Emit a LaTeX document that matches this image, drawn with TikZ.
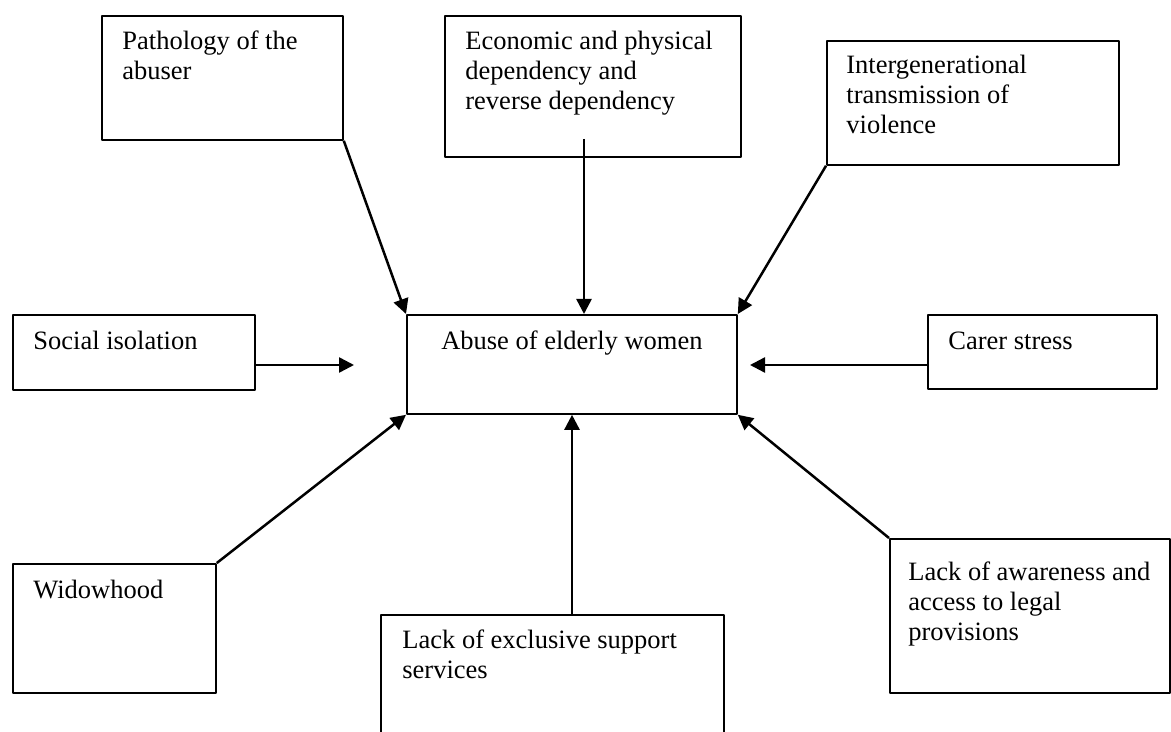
\documentclass[tikz,border=0pt]{standalone}
\usepackage{fontspec}
\setmainfont{Liberation Serif}
\usetikzlibrary{arrows.meta}
\tikzset{
	box/.style={draw,line width=0.9pt,anchor=north west,inner sep=0pt},
	txt/.style={anchor=base west,align=left,inner sep=0pt},
	arr/.style={line width=1.25pt,-{Triangle[length=7.5pt,width=7.5pt]}}
}
\begin{document}
\begin{tikzpicture}[x=0.5pt,y=-0.5pt,font=\fontsize{13.25}{15}\selectfont,line join=round]
	\useasboundingbox (0,0) rectangle (1171,732);
	\clip (0,0) rectangle (1171,732);
	\node[box,minimum width=120.5pt,minimum height=62pt] (pat) at (101,15) {};
	\node[box,minimum width=148pt,minimum height=70.5pt] (eco) at (444,15) {};
	\node[box,minimum width=146pt,minimum height=62pt] (gen) at (826,40) {};
	\node[box,minimum width=121pt,minimum height=37.5pt] (soc) at (12,314) {};
	\node[box,minimum width=165pt,minimum height=49.5pt] (cen) at (406,314) {};
	\node[box,minimum width=114.5pt,minimum height=37pt] (car) at (927,314) {};
	\node[box,minimum width=101.5pt,minimum height=64.5pt] (wid) at (12,563) {};
	\node[box,minimum width=171.5pt,minimum height=75pt] (exc) at (380,614) {};
	\node[box,minimum width=140pt,minimum height=77pt] (awa) at (889,538) {};
	\node[txt] (patT) at ([shift={(21,65)}]pat.north west) {Pathology of the\\abuser};
	\node[txt] (ecoT) at ([shift={(21,95)}]eco.north west) {Economic and physical\\dependency and\\reverse dependency};
	\node[txt] (genT) at ([shift={(20,94)}]gen.north west) {Intergenerational\\transmission of\\violence};
	\node[txt] (socT) at ([shift={(21,36)}]soc.north west) {Social isolation};
	\node[txt,anchor=base] (cenT) at ([shift={(0,36)}]cen.north) {Abuse of elderly women};
	\node[txt] (carT) at ([shift={(21,36)}]car.north west) {Carer stress};
	\node[txt] (widT) at ([shift={(21,35)}]wid.north west) {Widowhood};
	\node[txt] (excT) at ([shift={(22,64)}]exc.north west) {Lack of exclusive support\\services};
	\node[txt] (awaT) at ([shift={(19,102)}]awa.north west) {Lack of awareness and\\access to legal\\provisions};
	\coordinate (ecoA) at (584,139);
	\coordinate (socA) at (354,365);
	\coordinate (carA) at (750,365);
	\coordinate (excA) at (572,614);
	\draw[arr] (pat.south east) -- (cen.north west);
	\draw[arr] (ecoA) -- (ecoA |- cen.north);
	\draw[arr] (gen.south west) -- (cen.north east);
	\draw[arr] (soc.east |- socA) -- (socA);
	\draw[arr] (car.west |- carA) -- (carA);
	\draw[arr] (wid.north east) -- (cen.south west);
	\draw[arr] (excA) -- (excA |- cen.south);
	\draw[arr] (awa.north west) -- (cen.south east);
\end{tikzpicture}
\end{document}
